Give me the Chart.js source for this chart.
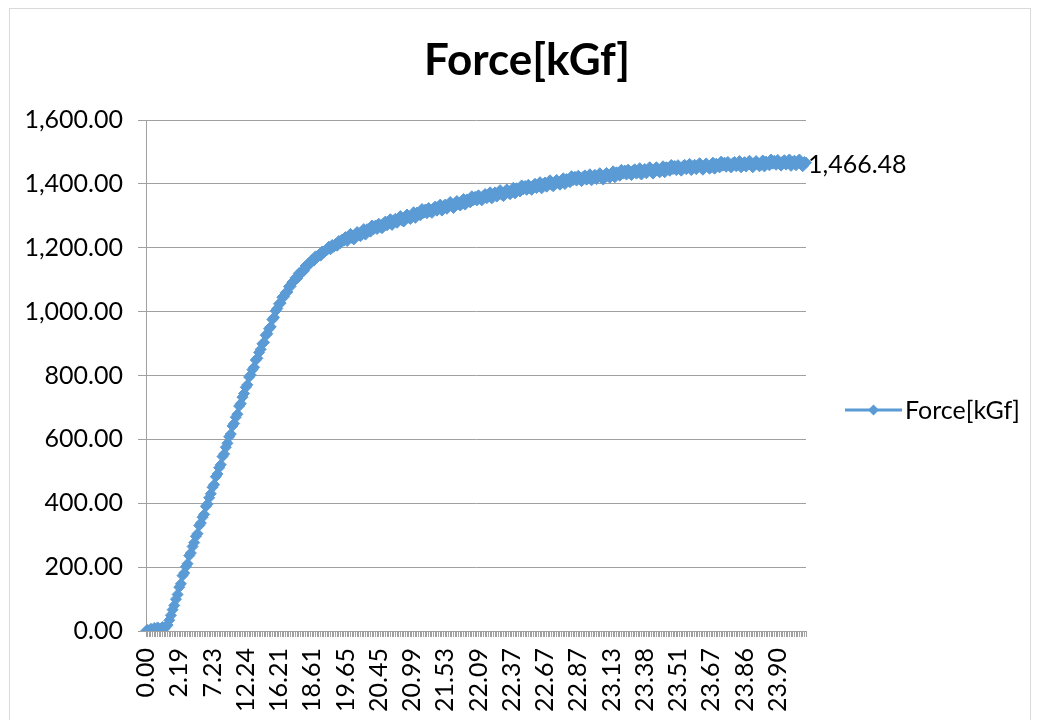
<!DOCTYPE html>
<html>
<head>
<meta charset="utf-8">
<title>Force[kGf]</title>
<script src="https://cdn.jsdelivr.net/npm/chart.js@4.4.1/dist/chart.umd.min.js"></script>
<style>
  html, body { margin: 0; padding: 0; background: #ffffff; }
  #wrap { width: 1038px; height: 720px; position: relative; }
</style>
</head>
<body>
<div id="wrap"><canvas id="chart" width="1038" height="720"></canvas></div>
<script>
// Series name
const seriesName = 'Force[kGf]';

// Displacement labels shown on the category axis, one every 20 samples
const tickLabels = ['0.00', '2.19', '7.23', '12.24', '16.21', '18.61', '19.65', '20.45', '20.99', '21.53',
                    '22.09', '22.37', '22.67', '22.87', '23.13', '23.38', '23.51', '23.67', '23.86', '23.90'];
const labelEvery = 20;

// Force readings [kGf], one per sample
const force = [
  0.00, 3.42, 1.17, 6.85, 2.36, 9.74, 4.51, 11.28, 5.93, 8.16,
  12.64, 7.38, 13.92, 18.45, 33.71, 49.26, 66.83, 80.14, 99.57, 114.38,
  137.2, 147.8, 173.4, 181.6, 201.3, 210.7, 236.1, 244.2, 264.5, 276.8,
  296.4, 304.7, 330.2, 337.9, 356.3, 365.1, 390.4, 397.2, 417.3, 429.6,
  450.1, 458.3, 483.2, 491.7, 511.4, 520.6, 546.2, 554.1, 575.3, 587.8,
  608.2, 616.6, 642.1, 649.7, 669.4, 678.8, 704.3, 711.9, 732.2, 743.7,
  763.1, 770.8, 795.2, 801.6, 818.3, 825.7, 848.4, 853.9, 872.1, 881.8,
  899.2, 903.7, 926.1, 930.8, 946.2, 952.6, 975.3, 981.9, 1002.4, 1009.7,
  1024.3, 1026.8, 1045.1, 1046.6, 1059.2, 1061.4, 1078.3, 1079.1, 1092.2, 1095.3,
  1106.1, 1104.7, 1120.2, 1118.9, 1128.3, 1127.8, 1143.1, 1141.2, 1152.4, 1153.6,
  1162.3, 1159.6, 1173.1, 1170.8, 1178.2, 1175.3, 1188.4, 1184.7, 1193.2, 1193.9,
  1203.4, 1195.2, 1208.6, 1203.1, 1211.7, 1206.4, 1221.3, 1214.6, 1225.8, 1222.1,
  1233.4, 1221.2, 1234.1, 1243.5, 1230.3, 1226.1, 1241.6, 1249.2, 1240.4, 1236.3,
  1243.2, 1258.4, 1241.3, 1258.1, 1256.2, 1250.4, 1269.7, 1258.6, 1269.3, 1258.7,
  1275.3, 1265.1, 1261.4, 1276.2, 1282.1, 1270.3, 1277.2, 1289.4, 1271.6, 1285.1,
  1290.6, 1278.2, 1291.1, 1299.3, 1286.2, 1282.1, 1296.7, 1304.1, 1294.3, 1290.2,
  1296.7, 1311.2, 1293.6, 1310.1, 1308.3, 1301.4, 1321.2, 1309.3, 1319.4, 1308.1,
  1324.3, 1313.6, 1309.2, 1323.4, 1329.1, 1316.2, 1322.4, 1335.1, 1316.3, 1329.6,
  1335.2, 1322.1, 1334.6, 1343.2, 1329.4, 1324.6, 1339.1, 1346.3, 1336.4, 1332.2,
  1338.1, 1352.4, 1335.2, 1351.3, 1348.6, 1342.1, 1361.2, 1349.4, 1359.3, 1348.2,
  1364.1, 1353.6, 1348.4, 1362.7, 1368.2, 1355.1, 1361.3, 1373.4, 1354.6, 1367.3,
  1373.2, 1360.1, 1372.3, 1380.4, 1366.2, 1361.7, 1375.6, 1382.4, 1372.3, 1367.6,
  1374.2, 1388.1, 1370.3, 1386.2, 1383.4, 1376.1, 1395.3, 1383.2, 1393.1, 1381.4,
  1397.2, 1386.1, 1381.3, 1395.4, 1400.2, 1387.1, 1393.2, 1405.3, 1386.1, 1399.2,
  1404.3, 1391.2, 1403.1, 1411.2, 1397.1, 1392.3, 1405.6, 1412.4, 1402.6, 1397.4,
  1403.6, 1417.4, 1399.6, 1415.1, 1412.2, 1405.3, 1424.1, 1412.2, 1422.1, 1410.3,
  1425.4, 1414.1, 1408.6, 1422.3, 1426.6, 1413.2, 1418.4, 1430.1, 1411.2, 1423.6,
  1428.2, 1414.6, 1426.1, 1433.4, 1419.2, 1413.6, 1427.1, 1434.2, 1424.1, 1419.3,
  1425.1, 1439.2, 1420.6, 1436.1, 1433.2, 1425.6, 1444.1, 1432.1, 1441.6, 1429.2,
  1444.6, 1433.1, 1427.4, 1441.2, 1445.6, 1432.1, 1437.6, 1449.2, 1429.4, 1442.1,
  1446.4, 1433.2, 1444.6, 1452.1, 1437.4, 1432.1, 1445.6, 1452.1, 1441.4, 1436.2,
  1441.6, 1455.1, 1436.4, 1452.1, 1448.6, 1441.1, 1459.2, 1446.4, 1455.9, 1443.1,
  1458.6, 1447.1, 1441.4, 1455.1, 1459.6, 1446.1, 1451.4, 1462.6, 1443.1, 1455.4,
  1459.7, 1446.1, 1457.4, 1464.6, 1450.1, 1444.4, 1457.6, 1464.1, 1453.4, 1447.6,
  1453.1, 1466.4, 1447.7, 1463.1, 1459.4, 1451.6, 1469.7, 1457.1, 1466.4, 1453.6,
  1468.7, 1457.1, 1451.4, 1464.6, 1468.7, 1455.1, 1460.3, 1471.4, 1451.7, 1463.9,
  1468.1, 1454.3, 1465.4, 1472.6, 1457.9, 1452.1, 1465.3, 1471.4, 1460.7, 1454.9,
  1460.1, 1473.3, 1454.6, 1469.7, 1465.8, 1458.1, 1476.2, 1463.4, 1472.3, 1459.7,
  1474.9, 1462.8, 1457.1, 1470.2, 1474.1, 1460.3, 1465.4, 1476.5, 1456.4, 1468.6,
  1472.6, 1458.4, 1469.7, 1476.3, 1461.6, 1455.3, 1468.4, 1466.48
];

// Category labels: a displacement label every 20 samples, blank in between
const categories = force.map((_, i) => (i % labelEvery === 0 && tickLabels[i / labelEvery] !== undefined) ? tickLabels[i / labelEvery] : '');

const blue = '#5b9bd5';
const gridGray = '#a0a0a0';
const fontFamily = 'Lato, "Open Sans", sans-serif';
const markerRadius = 5.5;

const fmt = v => v.toLocaleString('en-US', { minimumFractionDigits: 2, maximumFractionDigits: 2 });

// Title, legend, frame and the last-point value label
const decorations = {
  id: 'decorations',
  beforeDraw(chart) {
    const ctx = chart.ctx;
    ctx.save();
    ctx.fillStyle = '#ffffff';
    ctx.fillRect(0, 0, chart.width, chart.height);
    ctx.strokeStyle = '#d9d9d9';
    ctx.lineWidth = 1;
    ctx.strokeRect(9.5, 8.5, 1021, 740);
    ctx.restore();
  },
  afterDraw(chart) {
    const ctx = chart.ctx;
    ctx.save();
    // title
    ctx.fillStyle = '#000000';
    ctx.font = 'bold 44px ' + fontFamily;
    ctx.textAlign = 'center';
    ctx.textBaseline = 'alphabetic';
    ctx.fillText(seriesName, 527, 75);

    // legend entry: line with a diamond marker
    const ly = 410, lx0 = 845, lx1 = 902;
    ctx.strokeStyle = blue;
    ctx.lineWidth = 3;
    ctx.beginPath();
    ctx.moveTo(lx0, ly);
    ctx.lineTo(lx1, ly);
    ctx.stroke();
    const mx = (lx0 + lx1) / 2, r = markerRadius;
    ctx.fillStyle = blue;
    ctx.beginPath();
    ctx.moveTo(mx - r, ly); ctx.lineTo(mx, ly - r); ctx.lineTo(mx + r, ly); ctx.lineTo(mx, ly + r);
    ctx.closePath();
    ctx.fill();
    ctx.fillStyle = '#000000';
    ctx.font = '25px ' + fontFamily;
    ctx.textAlign = 'left';
    ctx.textBaseline = 'middle';
    ctx.fillText(seriesName, 905, ly + 1);

    // value label on the last point
    const meta = chart.getDatasetMeta(0);
    const last = meta.data[meta.data.length - 1];
    const lastVal = chart.data.datasets[0].data[meta.data.length - 1];
    ctx.fillText(fmt(lastVal), last.x + 2, last.y + 2);
    ctx.restore();
  }
};

new Chart(document.getElementById('chart'), {
  type: 'line',
  data: {
    labels: categories,
    datasets: [{
      label: seriesName,
      data: force,
      borderColor: blue,
      backgroundColor: blue,
      borderWidth: 3,
      tension: 0,
      pointStyle: 'rectRot',
      pointRadius: markerRadius,
      pointBorderWidth: 1,
      pointBackgroundColor: blue,
      pointBorderColor: blue,
      fill: false
    }]
  },
  options: {
    responsive: false,
    animation: false,
    events: [],
    layout: { padding: { top: 120, right: 232, left: 0, bottom: 0 } },
    plugins: {
      legend: { display: false },
      title: { display: false },
      tooltip: { enabled: false }
    },
    scales: {
      x: {
        type: 'category',
        offset: false,
        afterFit(scale) { scale.height = 89; },
        border: { color: gridGray, width: 1 },
        grid: { drawOnChartArea: false, drawTicks: true, tickLength: 6, color: gridGray },
        ticks: {
          autoSkip: false,
          maxRotation: 90,
          minRotation: 90,
          padding: 11,
          color: '#000000',
          font: { family: fontFamily, size: 25 }
        }
      },
      y: {
        min: 0,
        max: 1600,
        afterFit(scale) { scale.width = 146; },
        border: { color: gridGray, width: 1 },
        grid: { color: gridGray, tickLength: 8, drawTicks: true },
        ticks: {
          stepSize: 200,
          padding: 15,
          color: '#000000',
          font: { family: fontFamily, size: 25 },
          callback: v => fmt(v)
        }
      }
    }
  },
  plugins: [decorations]
});
</script>
</body>
</html>
